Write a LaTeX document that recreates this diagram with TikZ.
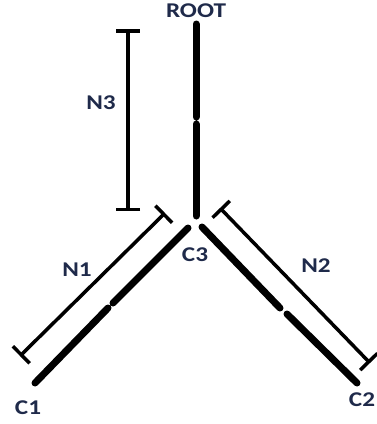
\documentclass[tikz,border=0pt]{standalone}
\usepackage{fontspec}
\setmainfont{Carlito}[FakeStretch=1.2]
\usetikzlibrary{arrows.meta}
\definecolor{labelblue}{HTML}{1F2A4A}
\tikzset{
    branch/.style={line width=7pt, line cap=round},
    span/.style={line width=3.5pt, {Bar[width=24pt]}-{Bar[width=24pt]}},
    lbl/.style={font=\bfseries\fontsize{21}{24}\selectfont, text=labelblue, inner sep=0pt},
}
\begin{document}
\begin{tikzpicture}[x=1pt,y=-1pt]
    \useasboundingbox (0,0) rectangle (377,424);
    % tree ends
    \coordinate (rootend) at (196,24);
    \coordinate (rootgapa) at (196,117);
    \coordinate (rootgapb) at (196,124);
    \coordinate (c3up) at (196,216);
    \coordinate (c3left) at (188,228);
    \coordinate (c3right) at (202,227);
    \coordinate (leftgapa) at (113,303);
    \coordinate (leftgapb) at (108,308);
    \coordinate (c1end) at (35,383);
    \coordinate (rightgapa) at (280,308);
    \coordinate (rightgapb) at (287,314);
    \coordinate (c2end) at (357,383);
    % span ends
    \coordinate (n3top) at (128,29);
    \coordinate (n3bot) at (128,211);
    \coordinate (n1top) at (165,213);
    \coordinate (n1bot) at (20,356);
    \coordinate (n2top) at (220,208);
    \coordinate (n2bot) at (370,363);

    \draw[branch]
    (rootend) -- (rootgapa)
    (rootgapb) -- (c3up)
    ;
    \draw[branch]
    (c3left) -- (leftgapa)
    (leftgapb) -- (c1end)
    ;
    \draw[branch]
    (c3right) -- (rightgapa)
    (rightgapb) -- (c2end)
    ;
    \draw[span]
    (n3top) -- (n3bot)
    ;
    \draw[span]
    (n1top) -- (n1bot)
    ;
    \draw[span]
    (n2top) -- (n2bot)
    ;

    \node[lbl] (root) at (196,11) {ROOT};
    \node[lbl] (n3) at (101,103) {N3};
    \node[lbl] (n1) at (77,270) {N1};
    \node[lbl] (n2) at (316,266) {N2};
    \node[lbl] (c3) at (195,255) {C3};
    \node[lbl] (c1) at (28,408) {C1};
    \node[lbl] (c2) at (362,400) {C2};
\end{tikzpicture}
\end{document}
